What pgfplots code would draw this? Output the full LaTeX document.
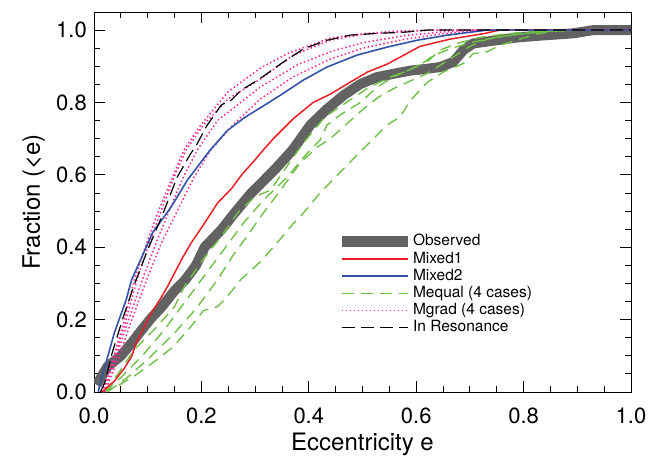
\documentclass[border=0pt]{standalone}
\usepackage{fontspec}
\setmainfont{TeX Gyre Heros}
\usepackage{pgfplots}
\pgfplotsset{compat=1.18}
\definecolor{obsgray}{RGB}{98,98,98}
\definecolor{mred}{RGB}{235,32,38}
\definecolor{mblue}{RGB}{52,82,168}
\definecolor{mgreen}{RGB}{112,192,72}
\definecolor{mpink}{RGB}{245,40,150}
\begin{document}
\begin{tikzpicture}
\begin{axis}[
  scale only axis, width=537bp, height=380bp,
  xmin=0, xmax=1, ymin=0, ymax=1.05,
  axis line style={line width=0.9bp},
  xtick={0,0.2,0.4,0.6,0.8,1.0},
  xticklabels={0.0,0.2,0.4,0.6,0.8,1.0},
  ytick={0,0.2,0.4,0.6,0.8,1.0},
  yticklabels={0.0,0.2,0.4,0.6,0.8,1.0},
  minor xtick={0.05,0.1,0.15,0.25,0.3,0.35,0.45,0.5,0.55,0.65,0.7,0.75,0.85,0.9,0.95},
  minor ytick={0.05,0.1,0.15,0.25,0.3,0.35,0.45,0.5,0.55,0.65,0.7,0.75,0.85,0.9,0.95,1.05},
  tick align=inside, tick pos=both,
  major tick length=11bp, minor tick length=6bp,
  every tick/.style={black, line width=0.9bp},
  ticklabel style={font=\fontsize{22bp}{26bp}\selectfont},
  /pgf/number format/assume math mode=true,
  xticklabel style={anchor=base, yshift=-31bp},
  yticklabel style={anchor=east, inner sep=0pt, xshift=-7bp},
  xlabel={Eccentricity e},
  ylabel={Fraction (<e)},
  every axis x label/.style={at={(rel axis cs:0.5,0)}, anchor=base, yshift=-58bp,
    font=\fontsize{24bp}{28bp}\selectfont},
  every axis y label/.style={at={(rel axis cs:0,0.5)}, rotate=90, anchor=base, yshift=54bp,
    font=\fontsize{24bp}{28bp}\selectfont},
  legend style={at={(rel axis cs:0.4507,0.414)}, anchor=north west, draw=none, fill=none,
    inner sep=0pt, outer sep=0pt, row sep=2.8bp,
    font=\fontsize{15.5bp}{18bp}\selectfont,
    nodes={inner sep=0pt, text height=11.2bp, text depth=3.2bp},
    /tikz/every even column/.append style={column sep=11bp}},
  legend cell align=left,
  legend image code/.code={\draw[#1] (0bp,0bp) -- (66bp,0bp);},
]
\addlegendimage{obsgray, line width=11bp}
\addlegendentry{Observed}
\addlegendimage{mred, line width=1.5bp}
\addlegendentry{Mixed1}
\addlegendimage{mblue, line width=1.6bp}
\addlegendentry{Mixed2}
\addlegendimage{mgreen, line width=1.4bp, dash pattern=on 12bp off 7bp}
\addlegendentry{Mequal (4 cases)}
\addlegendimage{mpink, line width=1.5bp, dash pattern=on 1.5bp off 2.5bp}
\addlegendentry{Mgrad (4 cases)}
\addlegendimage{black, line width=1.2bp, dash pattern=on 13bp off 6bp}
\addlegendentry{In Resonance}

% Observed
\addplot[forget plot, obsgray, line width=10bp, line join=round] coordinates {
(0.005,0.02)(0.025,0.07)(0.05,0.10)(0.07,0.135)(0.088,0.17)(0.107,0.205)(0.126,0.235)
(0.15,0.28)(0.17,0.31)(0.19,0.35)(0.206,0.40)(0.237,0.448)(0.262,0.495)(0.293,0.55)
(0.312,0.578)(0.34,0.62)(0.371,0.671)(0.403,0.738)(0.434,0.782)(0.465,0.82)(0.496,0.851)
(0.527,0.87)(0.557,0.879)(0.589,0.888)(0.62,0.893)(0.645,0.898)(0.669,0.912)(0.688,0.945)
(0.706,0.963)(0.75,0.972)(0.79,0.98)(0.843,0.986)(0.892,0.991)(0.93,1.0)(1.0,1.0)};

% Mequal (4 cases)
\addplot[forget plot, mgreen, line width=1.4bp, dash pattern=on 11bp off 7bp] coordinates {
(0.02,0)(0.04,0.04)(0.075,0.117)(0.112,0.172)(0.15,0.236)(0.168,0.291)(0.2,0.36)
(0.237,0.43)(0.27,0.50)(0.3,0.54)(0.329,0.558)(0.371,0.649)(0.39,0.688)(0.43,0.76)
(0.47,0.8)(0.51,0.84)(0.551,0.87)(0.58,0.885)(0.607,0.903)(0.632,0.93)(0.663,0.948)
(0.7,0.965)(0.75,0.98)(0.8,0.99)(0.85,0.997)(0.9,1)(1,1)};
\addplot[forget plot, mgreen, line width=1.4bp, dash pattern=on 11bp off 7bp] coordinates {
(0.02,0)(0.05,0.04)(0.09,0.1)(0.13,0.17)(0.17,0.25)(0.21,0.33)(0.25,0.41)(0.28,0.47)
(0.316,0.531)(0.36,0.594)(0.397,0.66)(0.421,0.696)(0.434,0.738)(0.459,0.766)(0.496,0.80)
(0.527,0.842)(0.557,0.87)(0.589,0.892)(0.62,0.912)(0.645,0.945)(0.676,0.963)(0.719,0.98)
(0.77,0.99)(0.812,0.995)(0.85,1)(1,1)};
\addplot[forget plot, mgreen, line width=1.4bp, dash pattern=on 11bp off 7bp] coordinates {
(0.025,0)(0.062,0.04)(0.1,0.09)(0.148,0.16)(0.19,0.23)(0.23,0.31)(0.26,0.38)(0.285,0.43)
(0.31,0.484)(0.341,0.545)(0.384,0.633)(0.416,0.677)(0.44,0.70)(0.47,0.74)(0.5,0.78)
(0.53,0.815)(0.56,0.84)(0.59,0.86)(0.62,0.88)(0.663,0.92)(0.7,0.955)(0.732,0.975)
(0.77,0.985)(0.83,0.995)(0.88,1)(1,1)};
\addplot[forget plot, mgreen, line width=1.4bp, dash pattern=on 11bp off 7bp] coordinates {
(0.015,0)(0.043,0.016)(0.074,0.043)(0.118,0.09)(0.148,0.126)(0.18,0.18)(0.204,0.225)
(0.23,0.236)(0.248,0.263)(0.273,0.31)(0.31,0.36)(0.341,0.412)(0.372,0.467)(0.384,0.484)
(0.421,0.55)(0.459,0.608)(0.5,0.67)(0.546,0.738)(0.57,0.76)(0.589,0.805)(0.62,0.855)
(0.65,0.884)(0.688,0.908)(0.706,0.935)(0.732,0.94)(0.756,0.958)(0.793,0.975)(0.825,0.989)
(0.855,0.997)(0.9,1.0)(1,1)};

% Mgrad (4 cases)
\addplot[forget plot, mpink, line width=1.5bp, dash pattern=on 1.5bp off 2.5bp] coordinates {
(0.015,0)(0.035,0.09)(0.055,0.19)(0.075,0.31)(0.1,0.42)(0.12,0.50)(0.145,0.59)(0.168,0.67)
(0.2,0.74)(0.25,0.83)(0.31,0.895)(0.36,0.935)(0.44,0.978)(0.5,0.99)(0.56,0.997)(0.62,1)(1,1)};
\addplot[forget plot, mpink, line width=1.5bp, dash pattern=on 1.5bp off 2.5bp] coordinates {
(0.015,0)(0.037,0.09)(0.058,0.19)(0.08,0.31)(0.105,0.42)(0.125,0.50)(0.148,0.59)(0.172,0.67)
(0.205,0.74)(0.25,0.81)(0.31,0.865)(0.37,0.93)(0.44,0.972)(0.5,0.988)(0.6,0.998)(0.65,1)(1,1)};
\addplot[forget plot, mpink, line width=1.5bp, dash pattern=on 1.5bp off 2.5bp] coordinates {
(0.018,0)(0.04,0.09)(0.062,0.19)(0.09,0.31)(0.115,0.41)(0.14,0.50)(0.165,0.59)(0.193,0.67)
(0.23,0.75)(0.31,0.843)(0.38,0.905)(0.44,0.94)(0.5,0.965)(0.58,0.985)(0.65,0.995)(0.7,1)(1,1)};
\addplot[forget plot, mpink, line width=1.5bp, dash pattern=on 1.5bp off 2.5bp] coordinates {
(0.02,0)(0.045,0.09)(0.068,0.19)(0.098,0.31)(0.125,0.41)(0.155,0.50)(0.185,0.59)(0.218,0.67)
(0.26,0.74)(0.31,0.81)(0.37,0.87)(0.44,0.92)(0.5,0.95)(0.58,0.975)(0.65,0.99)(0.72,1)(1,1)};

% Mixed1
\addplot[forget plot, mred, line width=1.5bp] coordinates {
(0.015,0)(0.02,0.007)(0.038,0.03)(0.057,0.067)(0.07,0.098)(0.079,0.136)(0.094,0.181)
(0.107,0.219)(0.126,0.263)(0.14,0.30)(0.163,0.366)(0.181,0.412)(0.206,0.467)(0.23,0.522)
(0.256,0.562)(0.275,0.600)(0.299,0.64)(0.313,0.665)(0.334,0.70)(0.371,0.755)(0.408,0.80)
(0.44,0.823)(0.477,0.856)(0.509,0.884)(0.546,0.906)(0.576,0.93)(0.607,0.955)(0.663,0.975)
(0.725,0.99)(0.756,1.0)(1,1)};

% Mixed2
\addplot[forget plot, mblue, line width=1.6bp] coordinates {
(0.008,0)(0.010,0.015)(0.038,0.164)(0.060,0.255)(0.070,0.310)(0.081,0.346)(0.109,0.440)
(0.144,0.512)(0.174,0.586)(0.215,0.666)(0.248,0.722)(0.280,0.758)(0.317,0.792)(0.347,0.820)
(0.390,0.862)(0.434,0.898)(0.490,0.931)(0.546,0.953)(0.602,0.972)(0.658,0.986)(0.732,1.0)(1,1)};

% In Resonance
\addplot[forget plot, black, line width=1.2bp, dash pattern=on 13bp off 6bp] coordinates {
(0.012,0)(0.020,0.026)(0.034,0.109)(0.053,0.200)(0.075,0.297)(0.100,0.393)(0.126,0.484)
(0.155,0.594)(0.181,0.661)(0.191,0.683)(0.211,0.738)(0.237,0.793)(0.256,0.807)(0.274,0.834)
(0.293,0.851)(0.313,0.870)(0.347,0.906)(0.390,0.948)(0.434,0.972)(0.477,0.986)(0.527,0.991)
(0.576,0.994)(0.620,1.0)(1,1)};
\end{axis}
\pgfresetboundingbox
\path[use as bounding box] (current axis.south west) ++(-94bp,-64bp) rectangle ++(663bp,456bp);
\end{tikzpicture}
\end{document}
